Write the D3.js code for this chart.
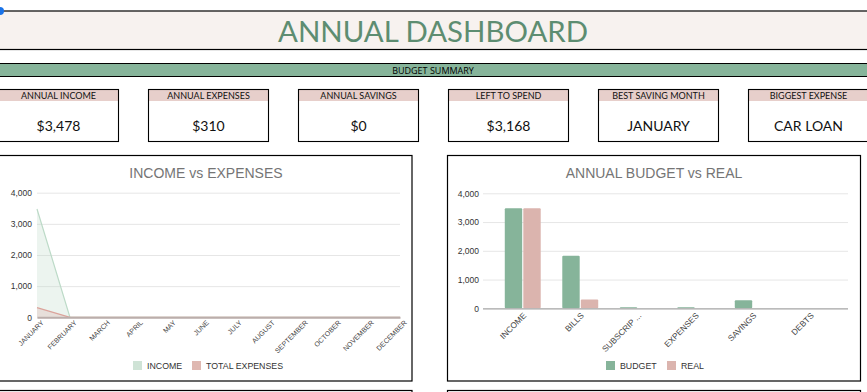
<!DOCTYPE html>
<html><head><meta charset="utf-8">
<script src="https://cdn.jsdelivr.net/npm/d3@7"></script>
<style>
body{margin:0;background:#fff;overflow:hidden}
svg{display:block}
</style></head>
<body>
<svg id="c" width="867" height="392"></svg>
<script>
const months = ["JANUARY","FEBRUARY","MARCH","APRIL","MAY","JUNE","JULY","AUGUST","SEPTEMBER","OCTOBER","NOVEMBER","DECEMBER"];
const income = [3478,0,0,0,0,0,0,0,0,0,0,0];
const totalExpenses = [310,0,0,0,0,0,0,0,0,0,0,0];
const categories = ["INCOME","BILLS","SUBSCRIP ...","EXPENSES","SAVINGS","DEBTS"];
const budget = [3478,1830,40,40,280,0];
const real = [3478,310,0,0,0,0];
const yTicks = [0,1000,2000,3000,4000];
const kpiLabels = ["ANNUAL INCOME","ANNUAL EXPENSES","ANNUAL SAVINGS","LEFT TO SPEND","BEST SAVING MONTH","BIGGEST EXPENSE"];
const kpiValues = ["$3,478","$310","$0","$3,168","JANUARY","CAR LOAN"];

const svg = d3.select("#c");
const fmt = d3.format(",");

// Title band
svg.append("rect").attr("x",-1).attr("y",11).attr("width",870).attr("height",38.5)
  .attr("fill","#f7f2ef").attr("stroke","#000").attr("stroke-width",1.2);
svg.append("text").attr("x",433).attr("y",42).attr("text-anchor","middle")
  .attr("font-family","Lato, 'Open Sans', sans-serif").attr("font-weight",400).attr("font-size",28)
  .attr("textLength",310).attr("lengthAdjust","spacingAndGlyphs")
  .attr("fill","#5d8d71").text("ANNUAL DASHBOARD");
svg.append("circle").attr("cx",0).attr("cy",11).attr("r",4).attr("fill","#1a73e8");

// Budget summary band
svg.append("rect").attr("x",-1).attr("y",63.5).attr("width",870).attr("height",13)
  .attr("fill","#86b49a").attr("stroke","#000").attr("stroke-width",1);
svg.append("text").attr("x",433).attr("y",73.5).attr("text-anchor","middle")
  .attr("font-family","'Liberation Sans Narrow', 'Open Sans', sans-serif").attr("font-size",9)
  .attr("fill","#000").text("BUDGET SUMMARY");

// KPI cards
const kx = d3.scaleLinear().domain([0,1]).range([-2,148]);
kpiLabels.forEach((lab,i)=>{
  const x = kx(i);
  const g = svg.append("g");
  g.append("rect").attr("x",x+0.5).attr("y",89.5).attr("width",120).attr("height",11.5).attr("fill","#e7cfcb");
  g.append("rect").attr("x",x+0.5).attr("y",89.5).attr("width",120).attr("height",52).attr("fill","none")
    .attr("stroke","#000").attr("stroke-width",1.1);
  g.append("text").attr("x",x+60.5).attr("y",98.7).attr("text-anchor","middle")
    .attr("font-family","Lato, 'Open Sans', sans-serif").attr("font-size",9).attr("fill","#111").text(lab);
  g.append("text").attr("x",x+60.5).attr("y",130.5).attr("text-anchor","middle")
    .attr("font-family","Lato, 'Open Sans', sans-serif").attr("font-size",14).attr("fill","#111").text(kpiValues[i]);
});

// Chart boxes
[[-1,155.5],[447.5,155.5]].forEach(([x,y])=>{
  svg.append("rect").attr("x",x).attr("y",y).attr("width",413).attr("height",225.5)
    .attr("fill","#fff").attr("stroke","#000").attr("stroke-width",1.2);
});
[[-1,390.5],[447.5,390.5]].forEach(([x,y])=>{
  svg.append("rect").attr("x",x).attr("y",y).attr("width",413).attr("height",40)
    .attr("fill","#fff").attr("stroke","#000").attr("stroke-width",1.2);
});

const axisFont = "Arial, 'Liberation Sans', sans-serif";

// ---------- Left chart: INCOME vs EXPENSES ----------
{
  const x = d3.scalePoint().domain(months).range([37,400]);
  const y = d3.scaleLinear().domain([0,4000]).range([317.3,192.7]);
  svg.append("text").attr("x",206).attr("y",178).attr("text-anchor","middle")
    .attr("font-family",axisFont).attr("font-size",14).attr("fill","#757575").text("INCOME vs EXPENSES");
  const gy = svg.append("g").attr("transform","translate(37,0)")
    .call(d3.axisLeft(y).tickValues(yTicks).tickFormat(fmt).tickSize(-363).tickPadding(5));
  gy.select(".domain").remove();
  gy.selectAll(".tick line").attr("stroke","#e6e6e6");
  gy.selectAll(".tick text").attr("font-family",axisFont).attr("font-size",8.5).attr("fill","#333");

  const area = d3.area().x((d,i)=>x(months[i])).y0(y(0)).y1(d=>y(d));
  const line = d3.line().x((d,i)=>x(months[i])).y(d=>y(d));
  svg.append("path").datum(income).attr("d",area).attr("fill","#b9d9c4").attr("fill-opacity",0.28);
  svg.append("path").datum(totalExpenses).attr("d",area).attr("fill","#dbb0a9").attr("fill-opacity",0.3);
  svg.append("path").datum(income).attr("d",line).attr("fill","none").attr("stroke","#bcdac7").attr("stroke-width",1.2);
  svg.append("path").datum(totalExpenses).attr("d",line).attr("fill","none").attr("stroke","#dba39b").attr("stroke-width",1.2);

  const gx = svg.append("g").attr("transform","translate(0,317.3)")
    .call(d3.axisBottom(x).tickSize(0).tickPadding(4));
  gx.select(".domain").attr("stroke","#bbaeab").attr("stroke-width",2);
  gx.selectAll(".tick text").attr("font-family",axisFont).attr("font-size",7).attr("fill","#444")
    .attr("text-anchor","end").attr("transform","translate(3,2) rotate(-45)").attr("dy","0.35em").attr("y",3).attr("x",0);

  const lg = [["INCOME","#cfe3d6",133],["TOTAL EXPENSES","#dfb8b1",192]];
  lg.forEach(([t,c,lx])=>{
    svg.append("rect").attr("x",lx).attr("y",361).attr("width",9).attr("height",9).attr("fill",c);
    svg.append("text").attr("x",lx+14).attr("y",368.8).attr("font-family",axisFont).attr("font-size",8.8)
      .attr("fill","#333").text(t);
  });
}

// ---------- Right chart: ANNUAL BUDGET vs REAL ----------
{
  const x = d3.scaleBand().domain(categories).range([494,839]).paddingInner(0.375).paddingOuter(0.1875);
  const xs = d3.scaleBand().domain(["budget","real"]).range([0,x.bandwidth()]).paddingInner(0.06);
  const y = d3.scaleLinear().domain([0,4000]).range([308.3,193.3]);
  svg.append("text").attr("x",654).attr("y",178).attr("text-anchor","middle")
    .attr("font-family",axisFont).attr("font-size",14).attr("fill","#757575").text("ANNUAL BUDGET vs REAL");
  const gy = svg.append("g").attr("transform","translate(483,0)")
    .call(d3.axisLeft(y).tickValues(yTicks).tickFormat(fmt).tickSize(-365).tickPadding(4));
  gy.select(".domain").remove();
  gy.selectAll(".tick line").attr("stroke","#e6e6e6");
  gy.selectAll(".tick text").attr("font-family",axisFont).attr("font-size",8.5).attr("fill","#333");

  const rows = categories.map((c,i)=>({c, budget:budget[i], real:real[i]}));
  const g = svg.append("g");
  [["budget","#86b49a"],["real","#dbb4ae"]].forEach(([k,col])=>{
    g.selectAll("rect."+k).data(rows.filter(d=>d[k]>0)).join("rect").attr("class",k)
      .attr("x",d=>x(d.c)+xs(k)).attr("width",xs.bandwidth())
      .attr("y",d=>y(d[k])).attr("height",d=>y(0)-y(d[k]))
      .attr("fill",col).attr("rx",1);
  });
  svg.append("line").attr("x1",483).attr("x2",848).attr("y1",308.8).attr("y2",308.8)
    .attr("stroke","#aaa").attr("stroke-width",1.3);
  const gx = svg.append("g").attr("transform","translate(0,309)")
    .call(d3.axisBottom(x).tickSize(0).tickPadding(4));
  gx.select(".domain").remove();
  gx.selectAll(".tick text").attr("font-family",axisFont).attr("font-size",8.3).attr("fill","#444")
    .attr("text-anchor","end").attr("transform","translate(0,3) rotate(-45)").attr("dy","0.35em").attr("y",3).attr("x",0);

  const lg = [["BUDGET","#86b49a",606],["REAL","#dbb4ae",667]];
  lg.forEach(([t,c,lx])=>{
    svg.append("rect").attr("x",lx).attr("y",361).attr("width",9).attr("height",9).attr("fill",c);
    svg.append("text").attr("x",lx+14).attr("y",368.8).attr("font-family",axisFont).attr("font-size",8.8)
      .attr("fill","#333").text(t);
  });
}
</script>
</body></html>
